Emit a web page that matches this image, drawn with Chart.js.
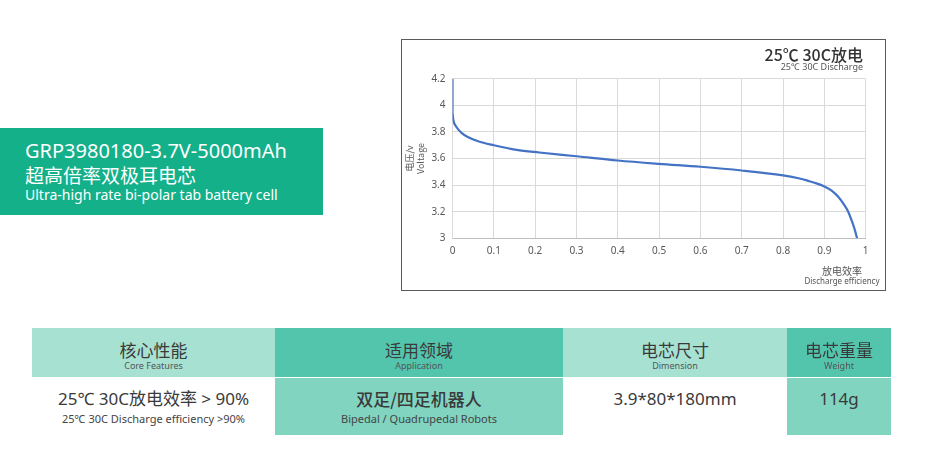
<!DOCTYPE html>
<html>
<head>
<meta charset="utf-8">
<script src="https://cdn.jsdelivr.net/npm/chart.js@4"></script>
<style>
  html,body{margin:0;padding:0;background:#fff;}
  body{width:933px;height:460px;position:relative;overflow:hidden;font-family:"Noto Sans","Noto Sans CJK SC",sans-serif;}
  .abs{position:absolute;white-space:nowrap;}
  #box{position:absolute;left:401px;top:39px;width:485px;height:252px;border:1px solid #5a5a5a;box-sizing:border-box;}
  #wrap{position:absolute;left:0;top:0;width:483px;height:250px;}
  .banner{position:absolute;left:0;top:128px;width:323px;height:87px;background:#13b08a;color:#fff;}
  .cell{position:absolute;text-align:center;color:#3a3a3a;}
  .cell .t{position:absolute;left:0;width:100%;white-space:nowrap;}
</style>
</head>
<body>
<div class="banner">
  <div class="abs" style="left:25px;top:9px;font-size:20px;line-height:27px;">GRP3980180-3.7V-5000mAh</div>
  <div class="abs" style="left:25px;top:35px;font-size:19px;line-height:24px;font-family:'Noto Sans CJK SC',sans-serif;">超高倍率双极耳电芯</div>
  <div class="abs" style="left:25px;top:57px;font-size:14px;line-height:19px;">Ultra-high rate bi-polar tab battery cell</div>
</div>

<div id="box"><div id="wrap"><canvas id="c"></canvas></div></div>
<div class="abs" style="right:70px;top:44px;font-size:16px;line-height:20px;color:#333;font-weight:500;font-family:'Noto Sans CJK SC',sans-serif;">25℃ 30C放电</div>
<div class="abs" style="right:70px;top:61px;font-size:9px;line-height:12px;color:#555;">25℃ 30C Discharge</div>
<div class="abs" style="left:802px;width:80px;text-align:center;top:265px;font-size:10px;line-height:12px;color:#555;font-family:'Noto Sans CJK SC',sans-serif;">放电效率</div>
<div class="abs" style="left:792px;width:100px;text-align:center;top:276px;font-size:8px;line-height:10px;color:#555;">Discharge efficiency</div>

<!-- table -->
<div class="cell" style="left:32px;top:328px;width:243px;height:49px;background:#a7e1d2;">
  <div class="t" style="top:11px;font-size:17px;line-height:22px;font-family:'Noto Sans CJK SC',sans-serif;">核心性能</div>
  <div class="t" style="top:32px;font-size:9px;line-height:12px;color:#555;">Core Features</div>
</div>
<div class="cell" style="left:275px;top:328px;width:288px;height:49px;background:#53c5ad;">
  <div class="t" style="top:11px;font-size:17px;line-height:22px;font-family:'Noto Sans CJK SC',sans-serif;">适用领域</div>
  <div class="t" style="top:32px;font-size:9px;line-height:12px;color:#555;">Application</div>
</div>
<div class="cell" style="left:563px;top:328px;width:224px;height:49px;background:#a7e1d2;">
  <div class="t" style="top:11px;font-size:17px;line-height:22px;font-family:'Noto Sans CJK SC',sans-serif;">电芯尺寸</div>
  <div class="t" style="top:32px;font-size:9px;line-height:12px;color:#555;">Dimension</div>
</div>
<div class="cell" style="left:787px;top:328px;width:104px;height:49px;background:#53c5ad;">
  <div class="t" style="top:11px;font-size:17px;line-height:22px;font-family:'Noto Sans CJK SC',sans-serif;">电芯重量</div>
  <div class="t" style="top:32px;font-size:9px;line-height:12px;color:#555;">Weight</div>
</div>

<div class="cell" style="left:32px;top:378px;width:243px;height:57px;background:#fff;">
  <div class="t" style="top:10px;font-size:17px;line-height:22px;">25℃ 30C放电效率 &gt; 90%</div>
  <div class="t" style="top:34px;font-size:11px;line-height:14px;color:#444;">25℃ 30C Discharge efficiency &gt;90%</div>
</div>
<div class="cell" style="left:275px;top:378px;width:288px;height:57px;background:#80d4c0;">
  <div class="t" style="top:10px;font-size:17px;line-height:22px;font-weight:500;font-family:'Noto Sans CJK SC',sans-serif;">双足/四足机器人</div>
  <div class="t" style="top:34px;font-size:11px;line-height:14px;color:#444;">Bipedal / Quadrupedal Robots</div>
</div>
<div class="cell" style="left:563px;top:378px;width:224px;height:57px;background:#fff;">
  <div class="t" style="top:10px;font-size:17px;line-height:22px;">3.9*80*180mm</div>
</div>
<div class="cell" style="left:787px;top:378px;width:104px;height:57px;background:#80d4c0;">
  <div class="t" style="top:10px;font-size:17px;line-height:22px;">114g</div>
</div>

<script>
// initial vertical drop at efficiency 0
const startEfficiency = [0, 0];
const startVoltage    = [4.2, 3.943];
// discharge curve
const efficiency = [0, 0.002, 0.01, 0.021, 0.037, 0.062, 0.1, 0.155, 0.21, 0.3, 0.4, 0.5, 0.6, 0.7, 0.8, 0.84, 0.861, 0.881, 0.9, 0.9175, 0.9335, 0.9456, 0.9577, 0.967, 0.974, 0.979];
const voltage    = [3.943, 3.89, 3.835, 3.795, 3.762, 3.73, 3.70, 3.665, 3.645, 3.617, 3.585, 3.56, 3.538, 3.51, 3.473, 3.45, 3.432, 3.413, 3.39, 3.358, 3.312, 3.262, 3.2, 3.125, 3.06, 3.0];
const yAxisTitle = ['电压/v', 'Voltage'];

const toPoints = (xs, ys) => xs.map((x, i) => ({x: x, y: ys[i]}));
const lineStyle = {borderColor: '#4472C4', borderWidth: 2.2, pointRadius: 0, fill: false};

new Chart(document.getElementById('c'), {
  type: 'line',
  data: {
    datasets: [
      Object.assign({data: toPoints(startEfficiency, startVoltage)}, lineStyle),
      Object.assign({data: toPoints(efficiency, voltage), cubicInterpolationMode: 'monotone'}, lineStyle)
    ]
  },
  options: {
    responsive: true,
    maintainAspectRatio: false,
    animation: false,
    layout: {padding: {top: 38.7, right: 19.3, bottom: 0, left: 0}},
    plugins: {legend: {display: false}, tooltip: {enabled: false}},
    scales: {
      x: {
        type: 'linear', min: 0, max: 1,
        ticks: {stepSize: 0.1, padding: 7, color: '#595959', font: {family: 'Noto Sans', size: 10},
                callback: v => String(Math.round(v * 10) / 10)},
        grid: {color: '#d9d9d9', drawTicks: false},
        border: {color: '#bfbfbf'},
        afterFit: s => { s.height = 51.7; }
      },
      y: {
        type: 'linear', min: 3, max: 4.2,
        ticks: {stepSize: 0.2, padding: 7, color: '#595959', font: {family: 'Noto Sans', size: 10},
                callback: v => String(Math.round(v * 10) / 10)},
        grid: {color: '#d9d9d9', drawTicks: false},
        border: {color: '#d9d9d9'},
        title: {display: true, text: yAxisTitle, color: '#595959', font: {family: "'Noto Sans CJK SC', 'Noto Sans'", size: 9}, padding: {top: 2.6, bottom: 0}},
        afterFit: s => { s.width = 50.5; }
      }
    }
  }
});
</script>
</body>
</html>
